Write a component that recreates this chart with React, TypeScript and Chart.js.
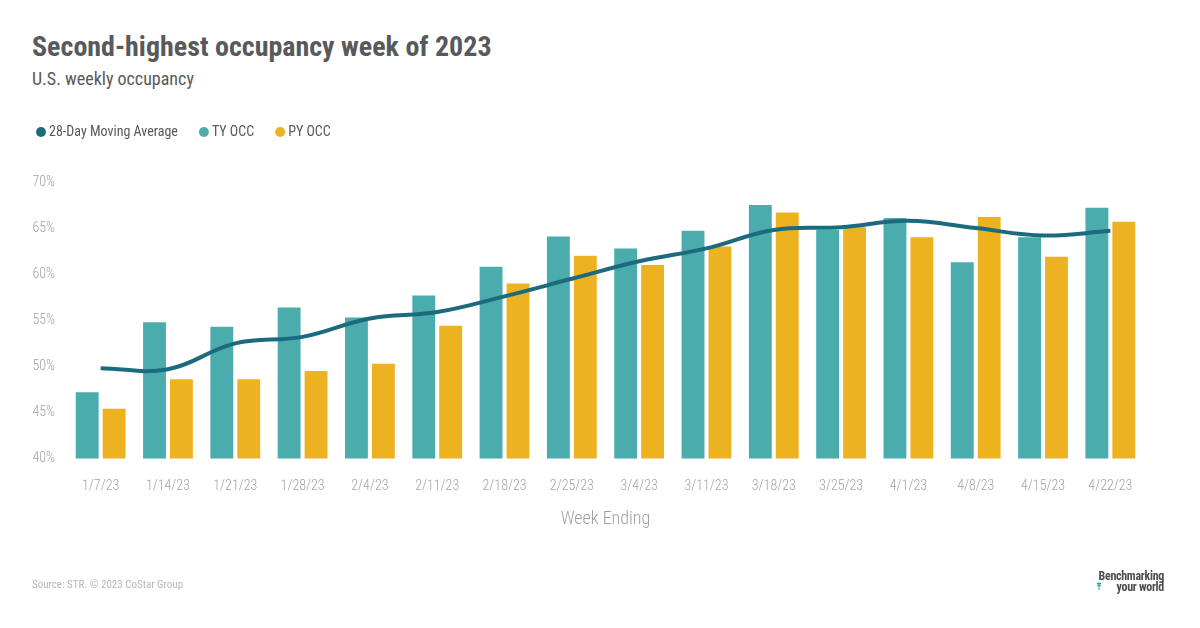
import React, { useEffect, useRef } from "react";
import { Chart, registerables } from "chart.js";

Chart.register(...registerables);

const weekLabels = [
  "1/7/23", "1/14/23", "1/21/23", "1/28/23", "2/4/23", "2/11/23", "2/18/23", "2/25/23",
  "3/4/23", "3/11/23", "3/18/23", "3/25/23", "4/1/23", "4/8/23", "4/15/23", "4/22/23",
];
const tyOcc = [47.2, 54.8, 54.3, 56.4, 55.3, 57.7, 60.8, 64.1, 62.8, 64.7, 67.5, 64.8, 66.1, 61.3, 64.0, 67.2];
const pyOcc = [45.4, 48.6, 48.6, 49.5, 50.3, 54.4, 59.0, 62.0, 61.0, 63.0, 66.7, 65.1, 64.0, 66.2, 61.9, 65.7];
const movingAvg = [49.8, 49.7, 52.5, 53.2, 55.2, 55.9, 57.6, 59.5, 61.4, 62.8, 64.8, 65.1, 65.8, 65.0, 64.2, 64.7];
const yTicks = [40, 45, 50, 55, 60, 65, 70];

const FONT = "'Roboto Condensed', Roboto, sans-serif";
const TEAL = "#4aacad";
const GOLD = "#edb220";
const LINE = "#1b6a7e";
const DARK = "#58595b";

export default function App() {
  const ref = useRef<HTMLCanvasElement | null>(null);

  useEffect(() => {
    if (!ref.current) return;
    const legendMargin = {
      id: "legendMargin",
      beforeInit(chart: any) {
        const orig = chart.legend.fit;
        chart.legend.fit = function () {
          orig.bind(chart.legend)();
          this.height += 33;
        };
      },
    };
    const chart = new Chart(ref.current, {
      type: "bar",
      data: {
        labels: weekLabels,
        datasets: [
          {
            type: "line",
            label: "28-Day Moving Average",
            data: movingAvg,
            borderColor: LINE,
            backgroundColor: LINE,
            borderWidth: 4,
            pointRadius: 0,
            pointStyle: "circle",
            tension: 0.4,
          } as any,
          {
            label: "TY OCC",
            data: tyOcc,
            backgroundColor: TEAL,
            barPercentage: 0.85,
            categoryPercentage: 0.8,
          },
          {
            label: "PY OCC",
            data: pyOcc,
            backgroundColor: GOLD,
            barPercentage: 0.85,
            categoryPercentage: 0.8,
          },
        ],
      },
      options: {
        animation: false,
        responsive: false,
        maintainAspectRatio: false,
        layout: { padding: { left: 15, right: 56, top: 100, bottom: 98 } },
        plugins: {
          title: { display: false },
          tooltip: { enabled: false },
          legend: {
            display: true,
            position: "top",
            align: "start",
            labels: {
              usePointStyle: true,
              boxWidth: 2,
              boxHeight: 7,
              padding: 25,
              color: DARK,
              font: { family: FONT, size: 14 },
              generateLabels: (c: any) =>
                Chart.defaults.plugins.legend.labels.generateLabels(c).map((it: any) => ({
                  ...it,
                  pointStyle: "circle",
                  lineWidth: 0,
                  strokeStyle: it.fillStyle,
                })),
            },
          },
        },
        scales: {
          x: {
            grid: { display: false, drawTicks: false },
            border: { display: false },
            ticks: {
              color: "#a3a3a3",
              padding: 19,
              maxRotation: 0,
              autoSkip: false,
              font: { family: FONT, size: 14, weight: "300" },
            },
            title: {
              display: true,
              text: "Week Ending",
              color: "#a0a0a0",
              font: { family: FONT, size: 18, weight: "300" },
              padding: { top: -5, bottom: 0 },
            },
          },
          y: {
            min: 40,
            max: 70,
            grid: { display: false, drawTicks: false },
            border: { display: false },
            afterFit: (s: any) => {
              s.width = 52;
            },
            afterBuildTicks: (s: any) => {
              s.ticks = yTicks.map((v) => ({ value: v }));
            },
            ticks: {
              color: "#a3a3a3",
              padding: 12,
              font: { family: FONT, size: 14, weight: "300" },
              callback: (v: any) => v + "%",
            },
          },
        },
      },
      plugins: [legendMargin],
    });
    return () => chart.destroy();
  }, []);

  return (
    <div style={{ position: "absolute", left: 0, top: 0, width: 1200, height: 628, background: "#fff", overflow: "hidden", fontFamily: FONT }}>
      <div style={{ position: "absolute", left: 32, top: 33, fontSize: 28, lineHeight: "28px", fontWeight: 700, color: DARK, whiteSpace: "nowrap" }}>
        Second-highest occupancy week of 2023
      </div>
      <div style={{ position: "absolute", left: 32, top: 70, fontSize: 18, lineHeight: "18px", color: DARK, whiteSpace: "nowrap" }}>
        U.S. weekly occupancy
      </div>
      <canvas ref={ref} width={1200} height={628} style={{ position: "absolute", left: 0, top: 0, width: 1200, height: 628 }} />
      <div style={{ position: "absolute", left: 32, top: 579, fontSize: 11, lineHeight: "11px", color: "#b5b5b5", whiteSpace: "nowrap" }}>
        Source: STR. © 2023 CoStar Group
      </div>
      <div style={{ position: "absolute", right: 36, top: 571, width: 80, textAlign: "right", fontSize: 12, lineHeight: "11px", fontWeight: 700, color: "#4d4d4d", whiteSpace: "nowrap", letterSpacing: "-0.3px" }}>
        <div>Benchmarking</div>
        <div style={{ position: "relative" }}>
          <span style={{ position: "absolute", left: 13, top: 0, color: "#23a08a", fontSize: 9, fontFamily: "DejaVu Sans" }}>⤒</span>
          your world
        </div>
      </div>
    </div>
  );
}
